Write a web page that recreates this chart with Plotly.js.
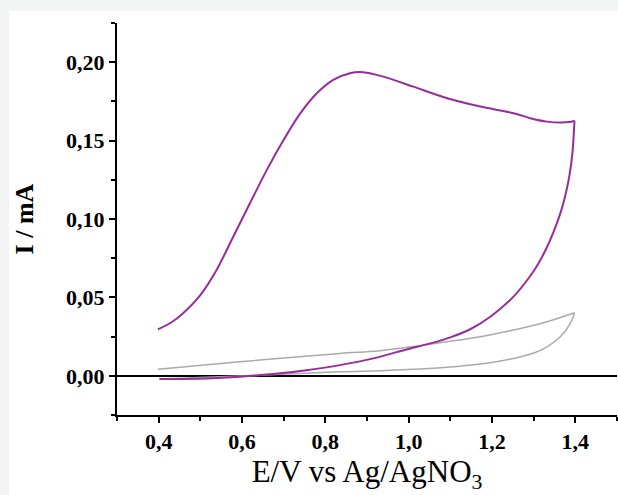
<!DOCTYPE html>
<html>
<head>
<meta charset="utf-8">
<script src="https://cdn.plot.ly/plotly-3.0.1.min.js"></script>
<style>html,body{margin:0;padding:0;background:#f3f4f4;}</style>
</head>
<body>
<div id="chart" style="width:618px;height:495px;"></div>
<script>
// Purple CV: lower branch (0.4 -> 1.4)
const purpleLowE = [0.402, 0.450, 0.515, 0.595, 0.675, 0.755, 0.835, 0.915, 0.995, 1.050, 1.100, 1.150, 1.200, 1.250, 1.290, 1.310, 1.330, 1.348, 1.364, 1.376, 1.386, 1.393, 1.398];
const purpleLowI = [-0.0021, -0.0020, -0.0017, -0.0006, 0.0011, 0.0036, 0.0068, 0.0111, 0.0168, 0.0205, 0.0245, 0.0300, 0.0385, 0.0500, 0.0630, 0.0710, 0.0810, 0.0920, 0.1036, 0.1150, 0.1280, 0.1420, 0.1627];
// Purple CV: upper branch (1.4 -> 0.4)
const purpleUpE = [1.398, 1.385, 1.364, 1.332, 1.292, 1.252, 1.172, 1.092, 1.011, 0.939, 0.891, 0.859, 0.819, 0.779, 0.739, 0.699, 0.659, 0.619, 0.579, 0.539, 0.500, 0.458, 0.430, 0.398];
const purpleUpI = [0.1627, 0.1618, 0.1615, 0.1621, 0.1643, 0.1675, 0.1717, 0.1770, 0.1844, 0.1908, 0.1936, 0.1930, 0.1887, 0.1800, 0.1670, 0.1500, 0.1310, 0.1100, 0.0887, 0.0675, 0.0515, 0.0398, 0.0340, 0.0296];
// Grey CV (blank): lower and upper branches
const greyLowE = [0.402, 0.595, 0.835, 0.931, 1.011, 1.092, 1.172, 1.252, 1.300, 1.332, 1.364, 1.388, 1.398];
const greyLowI = [-0.0021, -0.0002, 0.0026, 0.0032, 0.0041, 0.0054, 0.0075, 0.0111, 0.0145, 0.0185, 0.0249, 0.0334, 0.0402];
const greyUpE = [1.398, 1.332, 1.252, 1.172, 1.092, 0.931, 0.835, 0.595, 0.398];
const greyUpI = [0.0402, 0.0345, 0.0292, 0.0249, 0.0217, 0.0160, 0.0143, 0.0089, 0.0041];

const xTitle = 'E/V vs Ag/AgNO<sub>3</sub>';
const yTitle = 'I / mA';

const greyLine = {color: '#aaaaaa', width: 1.5, shape: 'spline', smoothing: 1};
const purpleLine = {color: '#972c9c', width: 2, shape: 'spline', smoothing: 0.8};

const traces = [
  {x: greyLowE, y: greyLowI, type: 'scatter', mode: 'lines', line: greyLine, hoverinfo: 'skip'},
  {x: greyUpE, y: greyUpI, type: 'scatter', mode: 'lines', line: greyLine, hoverinfo: 'skip'},
  {x: purpleLowE, y: purpleLowI, type: 'scatter', mode: 'lines', line: purpleLine, hoverinfo: 'skip'},
  {x: purpleUpE, y: purpleUpI, type: 'scatter', mode: 'lines', line: purpleLine, hoverinfo: 'skip'}
];

const tickFont = {family: 'Liberation Serif', size: 22, color: '#000', weight: 'bold'};

const layout = {
  width: 618, height: 495,
  margin: {l: 117, r: 1, t: 23, b: 80},
  paper_bgcolor: '#f3f4f4',
  plot_bgcolor: '#ffffff',
  separators: ',.',
  showlegend: false,
  shapes: [{type: 'rect', xref: 'paper', yref: 'paper', x0: -0.216, x1: 1.01, y0: -0.22, y1: 1.0306,
            fillcolor: '#ffffff', line: {width: 0}, layer: 'below'}],
  xaxis: {
    range: [0.3, 1.5], tick0: 0.4, dtick: 0.2, tickformat: '.1f',
    ticks: 'outside', ticklen: 6, tickwidth: 2, tickcolor: '#000',
    minor: {tick0: 0.3, dtick: 0.1, ticks: 'outside', ticklen: 4, tickwidth: 2, tickcolor: '#000', showgrid: false},
    showline: true, linecolor: '#000', linewidth: 2,
    showgrid: false, zeroline: false,
    tickfont: tickFont,
    title: {text: xTitle, font: {family: 'Liberation Serif', size: 31, color: '#000'}, standoff: 1}
  },
  yaxis: {
    range: [-0.025, 0.225], tick0: 0, dtick: 0.05, tickformat: '.2f',
    ticks: 'outside', ticklen: 6, tickwidth: 2, tickcolor: '#000',
    minor: {tick0: 0, dtick: 0.025, ticks: 'outside', ticklen: 4, tickwidth: 2, tickcolor: '#000', showgrid: false},
    showline: true, linecolor: '#000', linewidth: 2,
    showgrid: false, zeroline: true, zerolinecolor: '#000', zerolinewidth: 2,
    tickfont: tickFont,
    title: {text: yTitle, font: {family: 'Liberation Serif', size: 26, color: '#000', weight: 'bold'}, standoff: 25}
  }
};

Plotly.newPlot('chart', traces, layout, {staticPlot: true, displayModeBar: false});
</script>
</body>
</html>
